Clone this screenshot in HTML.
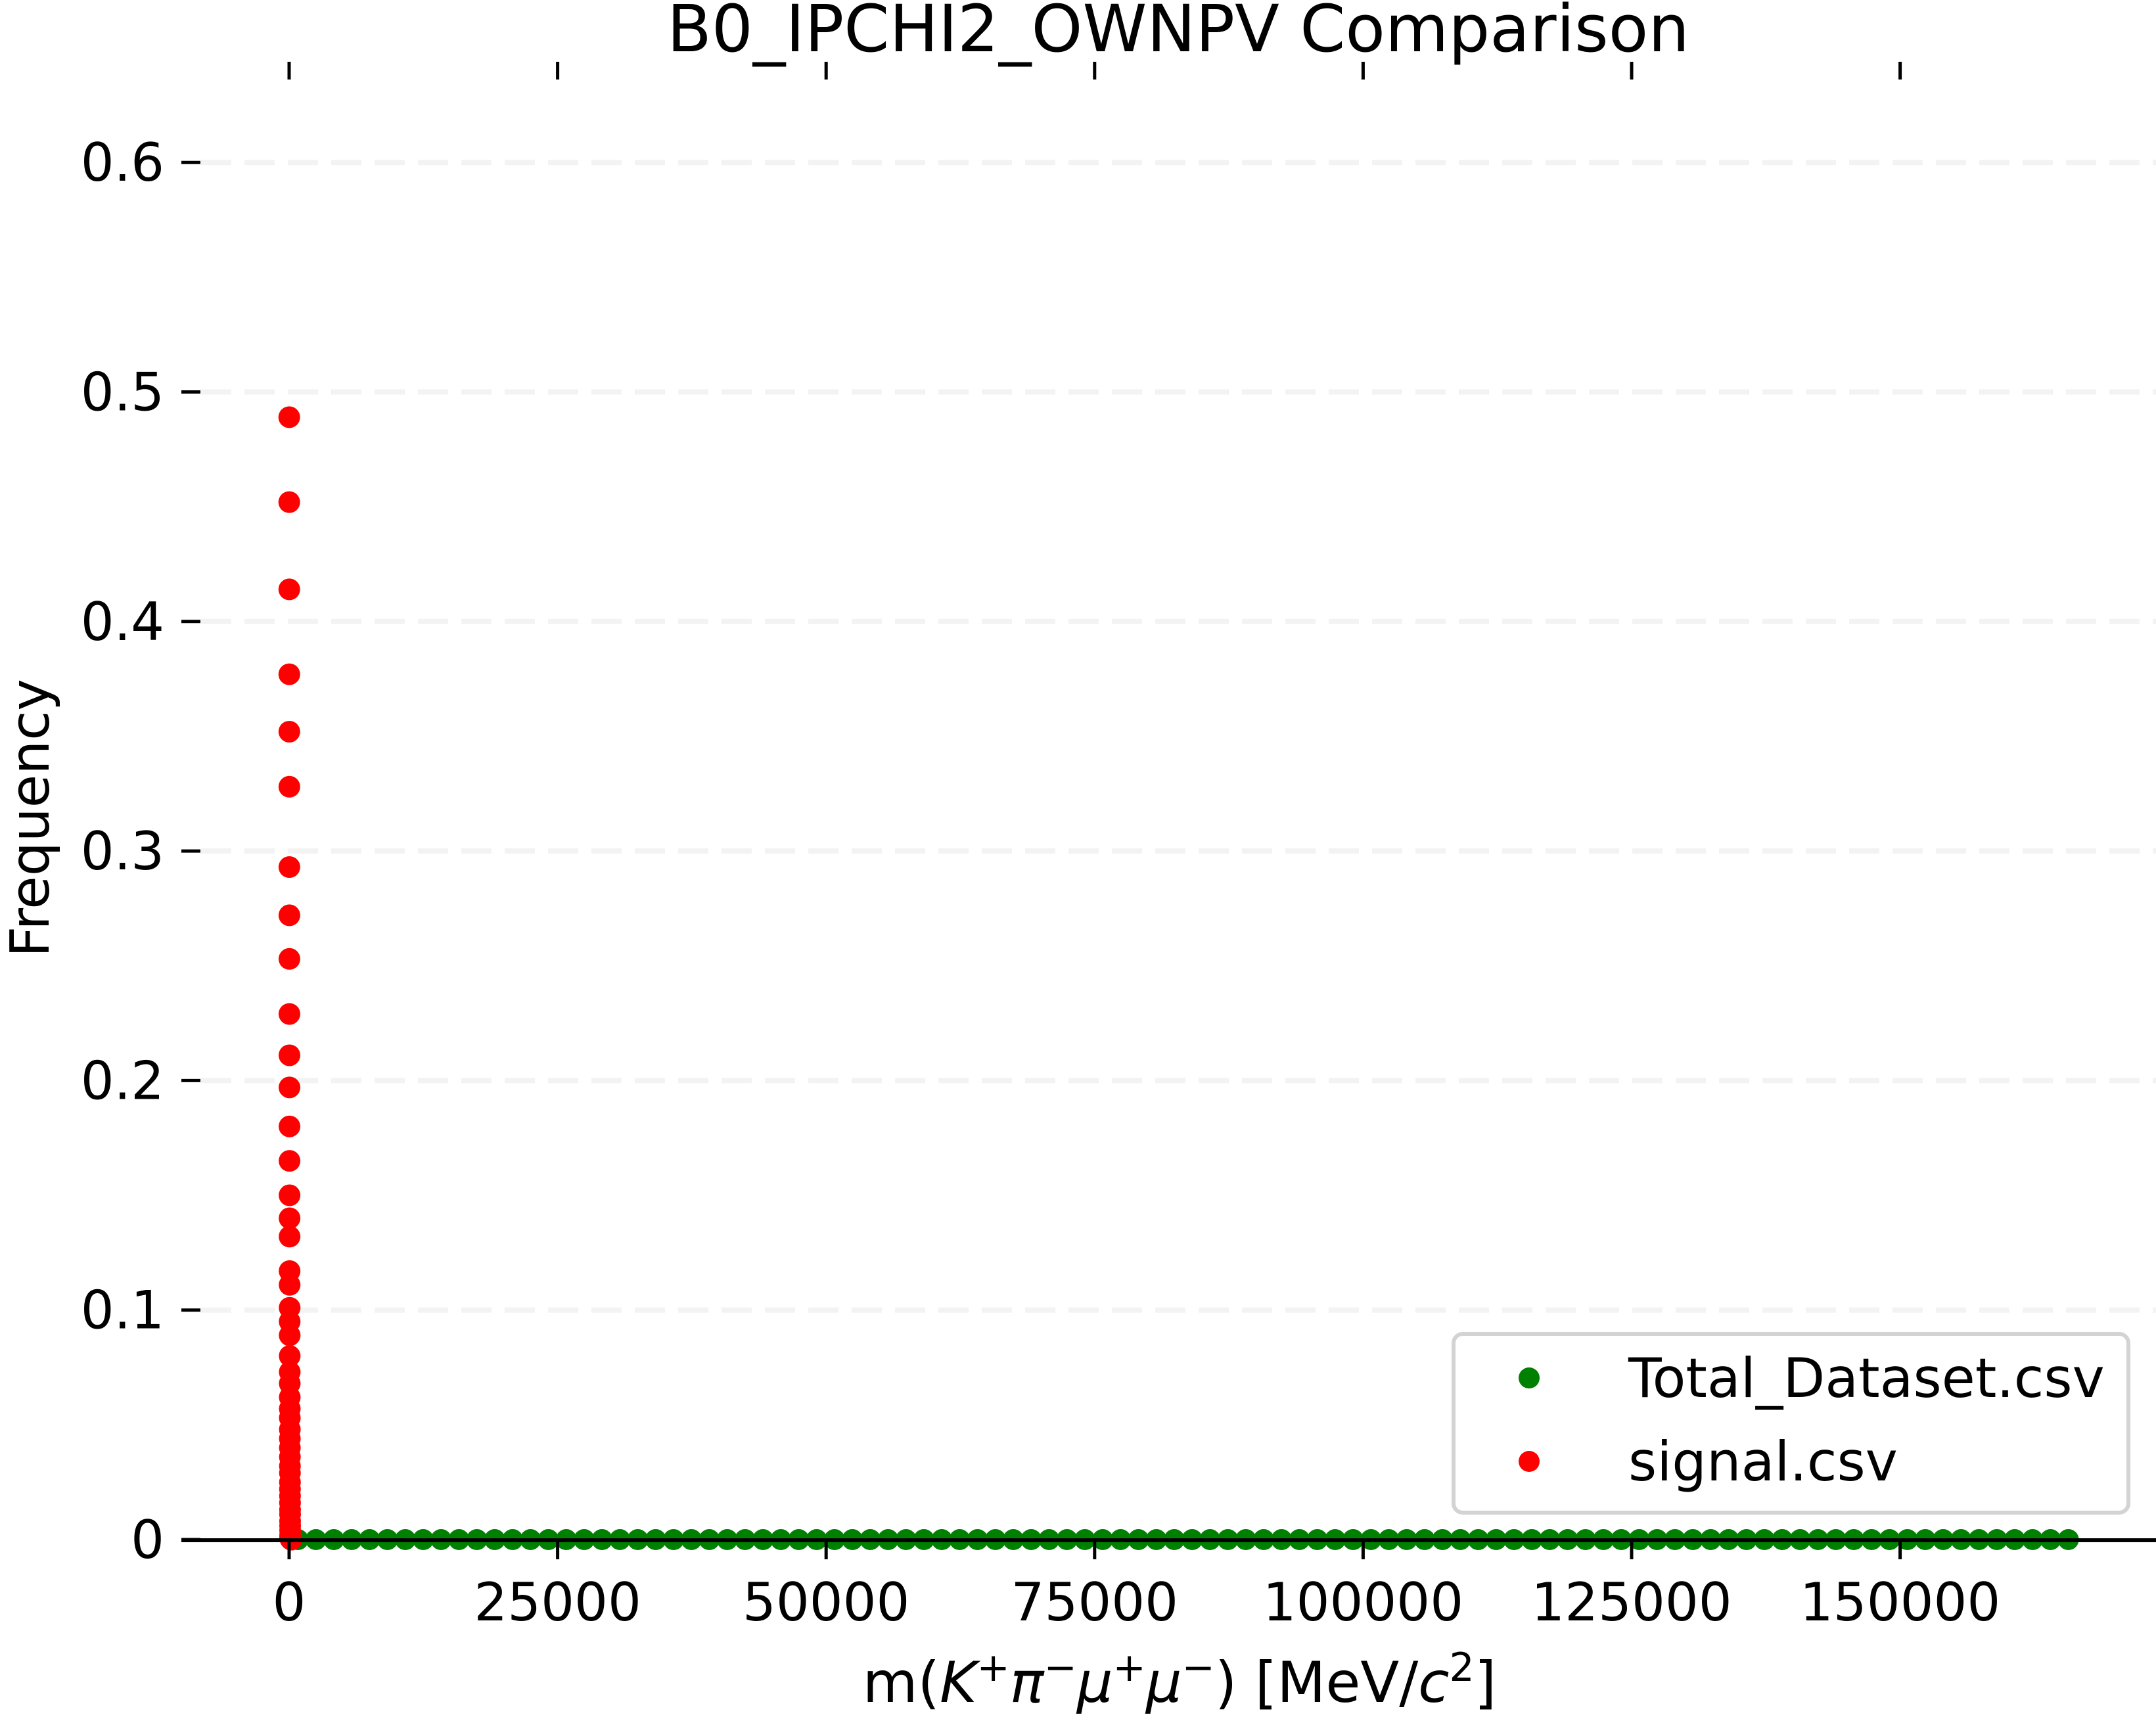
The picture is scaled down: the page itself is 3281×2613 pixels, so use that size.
<!DOCTYPE html>
<html><head><meta charset="utf-8"><style>
html,body{margin:0;padding:0;background:#fff;}
svg{display:block;font-family:"DejaVu Sans","Liberation Sans",sans-serif;}
</style></head><body>
<svg id="chart" width="3281" height="2613" viewBox="0 0 3281 2613" xmlns="http://www.w3.org/2000/svg">
<rect width="3281" height="2613" fill="#fff"/>
<g id="grid"></g>
<g id="marks"></g>
<g id="axes"></g>
<text x="1793" y="78" font-size="99" text-anchor="middle">B0_IPCHI2_OWNPV Comparison</text>
<text transform="translate(74,1245) rotate(-90)" font-size="82" text-anchor="middle">Frequency</text>
<text x="1795" y="2590" font-size="86" text-anchor="middle">m(<tspan font-style="italic">K</tspan><tspan dy="-32" font-size="60">+</tspan><tspan dy="32" font-style="italic">π</tspan><tspan dy="-32" font-size="60">−</tspan><tspan dy="32" font-style="italic">μ</tspan><tspan dy="-32" font-size="60">+</tspan><tspan dy="32" font-style="italic">μ</tspan><tspan dy="-32" font-size="60">−</tspan><tspan dy="32">) [MeV/</tspan><tspan font-style="italic">c</tspan><tspan dy="-32" font-size="60">2</tspan><tspan dy="32">]</tspan></text>
<g>
<rect x="2212" y="2030" width="1027" height="272" rx="14" fill="#fff" stroke="#d3d3d3" stroke-width="6"/>
<circle cx="2327" cy="2097" r="16" fill="#008000"/>
<text x="2478" y="2126" font-size="83">Total_Dataset.csv</text>
<circle cx="2327" cy="2224" r="16" fill="#ff0000"/>
<text x="2478" y="2253" font-size="83">signal.csv</text>
</g>
</svg>
<script>
const xTicks = [0, 25000, 50000, 75000, 100000, 125000, 150000];
const yTicks = [0, 0.1, 0.2, 0.3, 0.4, 0.5, 0.6];
const yTickLabels = ["0", "0.1", "0.2", "0.3", "0.4", "0.5", "0.6"];
const greenBinStart = 830;
const greenBinWidth = 1665;
const greenValues = [0.0,0,0,0,0,0,0,0,0,0,0,0,0,0,0,0,0,0,0,0,0,0,0,0,0,0,0,0,0,0,0,0,0,0,0,0,0,0,0,0,0,0,0,0,0,0,0,0,0,0,0,0,0,0,0,0,0,0,0,0,0,0,0,0,0,0,0,0,0,0,0,0,0,0,0,0,0,0,0,0,0,0,0,0,0,0,0,0,0,0,0,0,0,0,0,0,0,0,0,0];
const redX = [10,12,14,16,18,20,22,24,26,28,30,32,34,36,38,40,42,44,46,48,50,52,54,56,58,60,62,64,66,68,70,72,74,76,78,80,82,84,86,88,90,92,94,96,98,100,110,120,130,140,150,160,170,180,190,200];
const redValues = [0.489,0.452,0.414,0.377,0.352,0.328,0.293,0.272,0.253,0.229,0.211,0.197,0.180,0.165,0.150,0.140,0.132,0.117,0.111,0.101,0.095,0.089,0.080,0.073,0.068,0.062,0.057,0.053,0.048,0.044,0.040,0.036,0.032,0.029,0.025,0.022,0.019,0.016,0.013,0.011,0.008,0.006,0.004,0.002,0.001,0.001,0.0005,0.0005,0.0003,0.0002,0.0002,0.0001,0.0001,0,0,0];
const NS='http://www.w3.org/2000/svg';
function xs(v){return 440 + v*(408.6/25000);}
function ys(v){return 2343 - v*(349.3/0.1);}
function mk(tag, attrs, parent){const e=document.createElementNS(NS,tag);for(const k in attrs)e.setAttribute(k,attrs[k]);document.getElementById(parent).appendChild(e);return e;}
yTicks.forEach((t,i)=>{
  const y=ys(t);
  if(t>0){
    const g=mk('line',{x1:306,x2:3281,y1:y,y2:y,stroke:'#f3f3f3','stroke-width':8,'stroke-dasharray':'46 20'},'grid');
    
    
  }
  const tk=mk('line',{x1:276,x2:305,y1:y,y2:y,stroke:'#000','stroke-width':5},'axes');
  
  
  const tl=mk('text',{x:250,y:y+28,'font-size':80,'text-anchor':'end'},'axes');
  tl.textContent=yTickLabels[i];
  
  
});
greenValues.forEach((v,i)=>{
  const c=mk('circle',{cx:xs(greenBinStart+i*greenBinWidth),cy:ys(v),r:16,fill:'#008000'},'marks');
  
  
});
redValues.forEach((v,i)=>{
  const c=mk('circle',{cx:xs(redX[i]),cy:ys(v),r:16.5,fill:'#ff0000'},'marks');
  
  
});
const sp=mk('line',{x1:276,x2:3281,y1:2344,y2:2344,stroke:'#000','stroke-width':6},'axes');


xTicks.forEach(t=>{
  const x=xs(t);
  const b=mk('line',{x1:x,x2:x,y1:2344,y2:2373,stroke:'#000','stroke-width':5},'axes');
  
  
  const tp=mk('line',{x1:x,x2:x,y1:94,y2:121,stroke:'#000','stroke-width':5},'axes');
  
  
  const l=mk('text',{x:x,y:2466,'font-size':80,'text-anchor':'middle'},'axes');
  l.textContent=String(t);
  
  
});
</script>
</body></html>
